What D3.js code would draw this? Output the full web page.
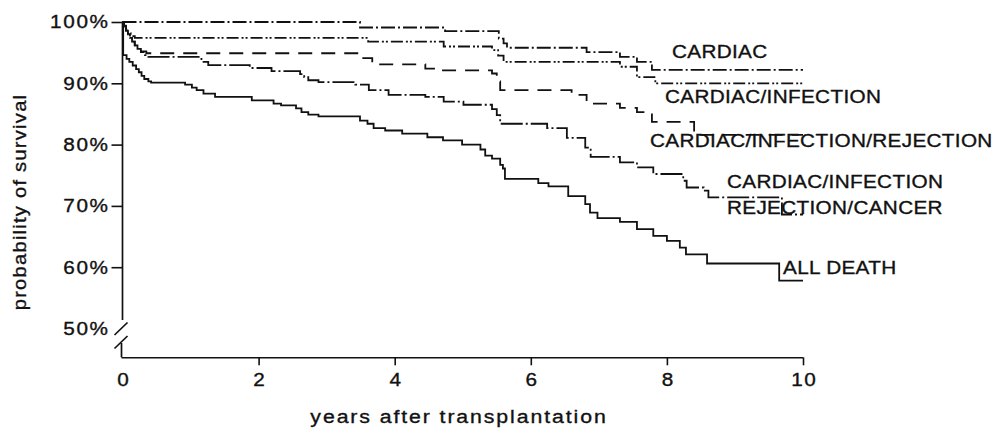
<!DOCTYPE html>
<html>
<head>
<meta charset="utf-8">
<script src="https://cdn.jsdelivr.net/npm/d3@7"></script>
<style>
  body { margin: 0; background: #fff; }
  svg text { font-family: "Liberation Sans", Arial, sans-serif; fill: #111; stroke: #111; stroke-width: 0.35; }
</style>
</head>
<body>
<svg id="chart" width="995" height="429"></svg>
<script>
// Kaplan-Meier style survival, [years after transplantation, % surviving]
const cardiac = [
  [0, 100], [3.49, 99.1], [4.74, 98.5], [5.53, 97.3], [5.60, 96.5], [5.65, 95.8],
  [6.82, 95.1], [7.31, 94.3], [7.56, 93.5], [7.78, 92.2], [10, 92.2]
];
const cardiacInfection = [
  [0, 100], [0.02, 99.4], [0.05, 98.8], [0.08, 98.2], [0.12, 97.7], [0.18, 97.4],
  [3.61, 96.8], [4.72, 96.0], [5.43, 95.4], [5.52, 94.5], [5.60, 93.5],
  [7.31, 92.7], [7.56, 91.0], [7.83, 90.0], [10, 90.0]
];
const cardiacInfRejection = [
  [0, 100], [0.02, 99.3], [0.05, 98.6], [0.08, 98.0], [0.11, 97.4], [0.14, 96.8],
  [0.18, 96.2], [0.22, 95.7], [0.27, 95.2], [0.35, 94.9], [3.49, 94.1], [3.67, 93.1],
  [4.45, 92.4], [4.69, 92.1], [5.43, 91.6], [5.50, 90.3], [5.55, 88.9], [6.60, 88.1],
  [6.82, 86.7], [7.31, 86.0], [7.56, 85.3], [7.78, 83.7], [8.40, 81.6], [10, 81.6]
];
const cardiacInfRejCancer = [
  [0, 100], [0.02, 99.3], [0.05, 98.6], [0.08, 98.0], [0.11, 97.4], [0.14, 96.8],
  [0.18, 96.2], [0.22, 95.6], [0.27, 95.1], [0.33, 94.6], [0.38, 94.3], [1.16, 93.5],
  [1.26, 92.95], [1.87, 92.5], [2.19, 92.0], [2.61, 91.5], [2.67, 91.0], [2.73, 90.5],
  [2.88, 90.2], [3.42, 89.8], [3.62, 88.9], [3.91, 88.1], [4.45, 87.8], [4.72, 87.0],
  [5.01, 86.5], [5.43, 85.8], [5.50, 84.8], [5.55, 83.4], [6.24, 82.7], [6.53, 81.1],
  [6.80, 79.5], [6.88, 78.0], [7.31, 77.1], [7.56, 76.3], [7.80, 75.2], [8.24, 74.1],
  [8.29, 73.0], [8.54, 72.5], [8.61, 71.4], [9.69, 68.6], [10, 68.6]
];
const allDeath = [
  [0, 100], [0.01, 94.6], [0.06, 94.0], [0.10, 93.5], [0.15, 92.9], [0.20, 92.3],
  [0.24, 91.8], [0.28, 91.2], [0.32, 90.7], [0.38, 90.3], [0.42, 90.1], [0.92, 89.8],
  [1.02, 89.3], [1.09, 88.9], [1.19, 88.3], [1.36, 87.8], [1.90, 87.2], [2.22, 86.7],
  [2.33, 86.4], [2.55, 85.9], [2.63, 85.3], [2.73, 84.9], [2.88, 84.6], [3.49, 83.9],
  [3.60, 83.4], [3.69, 82.7], [3.86, 82.3], [4.11, 81.8], [4.48, 81.2], [4.71, 80.7],
  [4.99, 80.0], [5.26, 79.2], [5.33, 78.2], [5.43, 77.7], [5.55, 76.7], [5.59, 76.1],
  [5.62, 74.4], [6.11, 73.7], [6.26, 73.2], [6.55, 71.6], [6.80, 70.3], [6.87, 68.9],
  [6.98, 68.0], [7.31, 67.4], [7.56, 66.2], [7.80, 65.1], [8.00, 64.3], [8.19, 63.2],
  [8.28, 62.1], [8.59, 60.6], [9.65, 57.8], [10, 57.8]
];

const series = [cardiac, cardiacInfection, cardiacInfRejection, cardiacInfRejCancer, allDeath];
const dashes = ["14,3,2,3", "12,3,2,2,2,3", "14,9", "22,3,2,3", null];

// curve captions, one entry per text line
const labelText = ["CARDIAC", "CARDIAC/INFECTION", "CARDIAC/INFECTION/REJECTION",
                   "CARDIAC/INFECTION", "REJECTION/CANCER", "ALL DEATH"];
const labelPos = [[672, 58], [665, 102.5], [650, 146.5], [727, 188], [727, 214], [783, 274]];

const yTicks = [50, 60, 70, 80, 90, 100];
const xTicks = [0, 2, 4, 6, 8, 10];

const wide = 1.12;   // horizontal stretch of the lettering

const svg = d3.select("#chart");
const x = d3.scaleLinear().domain([0, 10]).range([122.5, 803]);
const y = d3.scaleLinear().domain([50, 100]).range([328.5, 22]);
const axisY = 357.3;
const x0 = x(0);

// y axis, with the break below 50%
const gy = svg.append("g").attr("transform", `translate(${x0},0)`)
  .call(d3.axisLeft(y).tickValues(yTicks).tickSize(11).tickPadding(1)
    .tickFormat(d => d + "%"));
gy.select(".domain").remove();
gy.selectAll(".tick line").attr("stroke", "#111").attr("stroke-width", 1.6)
  .filter(d => d === 50).remove();
gy.selectAll(".tick text").attr("font-size", 18.5).attr("letter-spacing", 1.5)
  .attr("x", -14.5 / wide + 1.5)
  .attr("transform", `scale(${wide},1)`);

const axisLines = [
  [x0, y(100), x0, y(51.4)],
  [x0 - 8, y(50) + 6.5, x0 + 5, y(50) - 6],
  [x0 - 8, y(50) + 20, x0 + 5, y(50) + 7.5],
  [x0 - 1, y(50) + 14.5, x0 - 1, axisY]
];
svg.append("g").selectAll("line").data(axisLines).join("line")
  .attr("x1", d => d[0]).attr("y1", d => d[1])
  .attr("x2", d => d[2]).attr("y2", d => d[3])
  .attr("stroke", "#111").attr("stroke-width", 1.7);

// x axis
const gx = svg.append("g").attr("transform", `translate(0,${axisY})`)
  .call(d3.axisBottom(x).tickValues(xTicks).tickSize(8).tickPadding(7.7).tickSizeOuter(0));
gx.select(".domain").attr("stroke", "#111").attr("stroke-width", 1.6)
  .attr("d", `M${x0 - 1},0.5H${x(10)}`);
gx.selectAll(".tick line").attr("stroke", "#111").attr("stroke-width", 1.6)
  .filter(d => d === 0).remove();
gx.selectAll(".tick text").attr("font-size", 18.5).attr("letter-spacing", 1.2)
  .attr("dx", 0.6).attr("transform", `scale(${wide},1)`);

// survival curves
const line = d3.line().x(d => x(d[0])).y(d => y(d[1])).curve(d3.curveStepAfter);
svg.append("g").selectAll("path").data(series).join("path")
  .attr("d", line)
  .attr("fill", "none")
  .attr("stroke", "#111")
  .attr("stroke-width", 1.8)
  .attr("stroke-dasharray", (d, i) => dashes[i]);

// captions
svg.append("g").selectAll("text").data(labelText).join("text")
  .attr("transform", (d, i) => `translate(${labelPos[i]}) scale(${wide},1)`)
  .attr("font-size", 18.5)
  .attr("letter-spacing", 0.3)
  .text(d => d);

// axis titles
svg.append("text")
  .attr("transform", `translate(26,202) rotate(-90) scale(${wide},1)`)
  .attr("text-anchor", "middle")
  .attr("font-size", 18)
  .attr("letter-spacing", 1.1)
  .text("probability of survival");

svg.append("text")
  .attr("transform", `translate(459,423) scale(${wide},1)`)
  .attr("text-anchor", "middle")
  .attr("font-size", 19)
  .attr("letter-spacing", 1.7)
  .text("years after transplantation");
</script>
</body>
</html>
